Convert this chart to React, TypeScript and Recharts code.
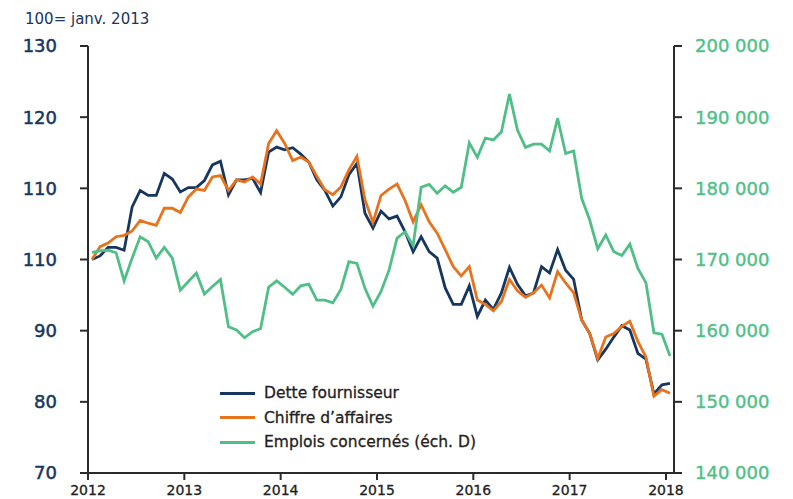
import React from 'react';
import { LineChart, Line, XAxis, YAxis, Legend } from 'recharts';

const NAVY = '#17365f';
const ORANGE = '#e8731d';
const GREEN = '#4fbf87';
const AXIS = '#2b2b2b';
const FONT = '"DejaVu Sans", sans-serif';

const yearLabels = ['2012', '2013', '2014', '2015', '2016', '2017', '2018'];
const yearTicks = [0, 12, 24, 36, 48, 60, 72];
const leftTicks = [70, 80, 90, 100, 110, 120, 130];
const leftTickLabels = ['70', '80', '90', '110', '110', '120', '130'];
const rightTicks = [140000, 150000, 160000, 170000, 180000, 190000, 200000];
const rightTickLabels = ['140 000', '150 000', '160 000', '170 000', '180 000', '190 000', '200 000'];

const dette = [
  100.0, 100.5, 101.7, 101.7, 101.3, 107.4, 109.7, 109.0, 109.0, 112.1, 111.3, 109.5,
  110.1, 110.1, 111.1, 113.3, 113.8, 109.1, 111.2, 111.2, 111.4, 109.4, 115.1, 115.8,
  115.4, 115.7, 114.8, 113.7, 111.2, 109.7, 107.5, 108.8, 111.9, 113.5, 106.5, 104.4,
  106.8, 105.7, 106.1, 103.9, 101.1, 103.2, 101.1, 100.2, 96.0, 93.7, 93.7, 96.3,
  92.0, 94.3, 93.0, 95.3, 98.9, 96.5, 94.9, 95.3, 99.0, 98.1, 101.4, 98.5,
  97.2, 91.5, 89.6, 85.9, 87.4, 89.1, 90.7, 90.1, 86.8, 86.0, 81.1, 82.4,
  82.6,
];

const chiffre = [
  100.0, 101.8, 102.3, 103.2, 103.4, 104.0, 105.5, 105.1, 104.8, 107.2, 107.2, 106.6,
  108.8, 109.9, 109.7, 111.6, 111.8, 109.7, 111.2, 110.9, 111.6, 110.6, 116.3, 118.1,
  116.3, 113.9, 114.4, 113.7, 111.7, 109.8, 109.1, 110.2, 112.6, 114.5, 108.4, 105.2,
  109.0, 109.9, 110.6, 108.3, 105.3, 107.7, 105.3, 103.7, 101.4, 99.0, 97.7, 99.0,
  94.3, 93.7, 92.8, 94.1, 97.2, 95.6, 94.7, 95.3, 96.4, 94.6, 98.3, 96.7,
  95.3, 91.5, 89.6, 86.1, 89.1, 89.6, 90.6, 91.3, 88.5, 86.3, 80.8, 81.7,
  81.2,
];

const emplois = [
  171000, 171200, 171300, 170950, 167000, 170200, 173200, 172500, 170200, 171700, 170200, 165700,
  166900, 168100, 165150, 166200, 167200, 160550, 160100, 159000, 159850, 160300, 166100, 167000,
  166100, 165100, 166300, 166550, 164300, 164300, 163900, 165800, 169700, 169450, 165950, 163450,
  165500, 168500, 173000, 173900, 171950, 180150, 180550, 179300, 180350, 179450, 180150, 186400,
  184350, 187050, 186800, 187950, 193250, 188200, 185750, 186200, 186200, 185250, 189850, 184900,
  185250, 178600, 175550, 171500, 173450, 171100, 170550, 172150, 168750, 166750, 159700, 159500,
  156450,
];

const SERIES = [
  { key: 'dette', name: 'Dette fournisseur', color: NAVY, axis: 'left' },
  { key: 'chiffre', name: "Chiffre d\u2019affaires", color: ORANGE, axis: 'left' },
  { key: 'emplois', name: 'Emplois concern\u00e9s (\u00e9ch. D)', color: GREEN, axis: 'right' },
];

// month index (centre of each month) for each observation
const data = dette.map((v, i) => ({
  t: i + 0.5,
  dette: v,
  chiffre: chiffre[i],
  emplois: emplois[i],
}));

const renderLegend = () => (
  <div style={{ fontFamily: FONT, fontSize: 15.5, color: '#222', WebkitTextStroke: '0.3px #222' }}>
    {SERIES.map((s) => (
      <div key={s.key} style={{ display: 'flex', alignItems: 'center', height: 24.5, whiteSpace: 'nowrap' }}>
        <span style={{ display: 'inline-block', width: 35, height: 3, background: s.color, marginRight: 9 }} />
        <span>{s.name}</span>
      </div>
    ))}
  </div>
);

export default function App() {
  return (
    <div style={{ position: 'absolute', left: 0, top: 0, width: 793, height: 499, background: '#fff', overflow: 'hidden' }}>
      <div
        style={{
          position: 'absolute',
          left: 25,
          top: 10,
          fontFamily: FONT,
          fontSize: 15,
          color: NAVY,
          whiteSpace: 'nowrap',
        }}
      >
        100= janv. 2013
      </div>
      <LineChart width={793} height={499} data={data} margin={{ top: 46, right: 0, bottom: 0, left: 0 }}>
        <XAxis
          dataKey="t"
          type="number"
          domain={[0, 73]}
          ticks={yearTicks}
          tickFormatter={(v: number) => yearLabels[yearTicks.indexOf(v)]}
          height={26}
          axisLine={{ stroke: AXIS, strokeWidth: 2 }}
          tickLine={{ stroke: AXIS, strokeWidth: 2 }}
          tickSize={7}
          tickMargin={5}
          tick={{ fill: '#222', fontSize: 14, fontFamily: FONT, stroke: '#222', strokeWidth: 0.3 }}
          interval={0}
        />
        <YAxis
          yAxisId="left"
          orientation="left"
          width={88}
          domain={[70, 130]}
          ticks={leftTicks}
          tickFormatter={(v: number) => leftTickLabels[leftTicks.indexOf(v)]}
          axisLine={{ stroke: AXIS, strokeWidth: 2 }}
          tickLine={{ stroke: AXIS, strokeWidth: 2 }}
          tickSize={8}
          tickMargin={23}
          tick={{ fill: NAVY, fontSize: 18, fontFamily: FONT, stroke: NAVY, strokeWidth: 0.5 }}
          interval={0}
        />
        <YAxis
          yAxisId="right"
          orientation="right"
          width={119}
          domain={[140000, 200000]}
          ticks={rightTicks}
          tickFormatter={(v: number) => rightTickLabels[rightTicks.indexOf(v)]}
          axisLine={{ stroke: AXIS, strokeWidth: 2 }}
          tickLine={{ stroke: AXIS, strokeWidth: 2 }}
          tickSize={8}
          tickMargin={13}
          tick={{ fill: GREEN, fontSize: 18, fontFamily: FONT, stroke: GREEN, strokeWidth: 0.4 }}
          interval={0}
        />
        <Legend
          layout="vertical"
          align="center"
          verticalAlign="middle"
          content={renderLegend}
          wrapperStyle={{ left: 220, top: 381, width: 320, height: 74 }}
        />
        {SERIES.map((s) => (
          <Line
            key={s.key}
            yAxisId={s.axis}
            dataKey={s.key}
            name={s.name}
            stroke={s.color}
            strokeWidth={2.8}
            dot={false}
            activeDot={false}
            isAnimationActive={false}
            strokeLinejoin="miter"
          />
        ))}
      </LineChart>
    </div>
  );
}
